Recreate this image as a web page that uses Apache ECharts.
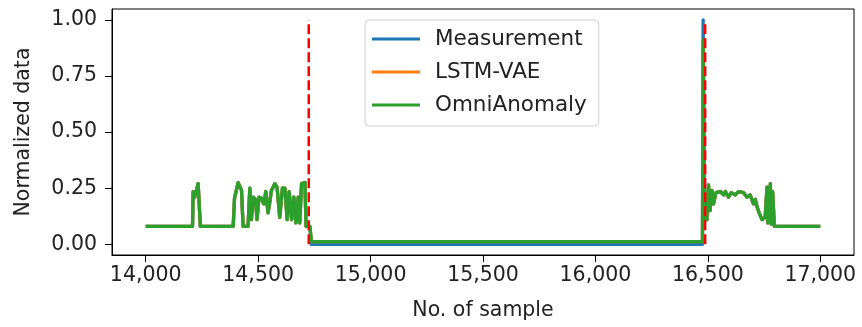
<!DOCTYPE html>
<html>
<head>
<meta charset="utf-8">
<script src="https://cdn.jsdelivr.net/npm/echarts@6/dist/echarts.min.js"></script>
<style>
html,body{margin:0;padding:0;background:#fff;}
#chart{width:862px;height:327px;}
</style>
</head>
<body>
<div id="chart"></div>
<script>
// Breakpoints of the traces (sample number)
var sampleX = [
  14000, 14208, 14211, 14218, 14233, 14238, 14243,
  14389, 14395, 14411, 14426, 14433, 14455, 14463, 14470, 14478, 14488, 14495,
  14504, 14515, 14525, 14534, 14544, 14552, 14559, 14574, 14584, 14596, 14608,
  14619, 14629, 14638, 14649, 14659, 14668, 14678, 14685, 14693, 14708, 14713,
  14730, 14737,
  16476, 16479, 16486, 16496, 16503, 16510, 16518, 16525, 16536, 16555, 16570,
  16578, 16592, 16604, 16622, 16636, 16659, 16674, 16688, 16703, 16711, 16718,
  16728, 16741, 16748, 16755, 16763, 16767, 16778, 16782, 16788, 16796, 16807,
  17000
];
var measurement = [
  0.08, 0.08, 0.235, 0.21, 0.27, 0.27, 0.08,
  0.08, 0.206, 0.275, 0.24, 0.08, 0.08, 0.25, 0.11, 0.21, 0.20, 0.11,
  0.21, 0.205, 0.18, 0.235, 0.14, 0.19, 0.24, 0.27, 0.255, 0.12, 0.25,
  0.25, 0.11, 0.235, 0.11, 0.21, 0.095, 0.21, 0.095, 0.27, 0.275, 0.08,
  0.08, 0.0,
  0.0, 1.0, 0.11, 0.11, 0.265, 0.15, 0.24, 0.18, 0.23, 0.235, 0.22,
  0.235, 0.21, 0.23, 0.22, 0.235, 0.23, 0.21, 0.22, 0.18, 0.20, 0.17,
  0.14, 0.11, 0.105, 0.12, 0.255, 0.095, 0.27, 0.09, 0.235, 0.08, 0.08,
  0.08
];
var lstmVae = [
  0.08, 0.08, 0.235, 0.21, 0.27, 0.27, 0.08,
  0.08, 0.206, 0.275, 0.24, 0.08, 0.08, 0.25, 0.11, 0.21, 0.20, 0.11,
  0.21, 0.205, 0.18, 0.235, 0.14, 0.19, 0.24, 0.27, 0.255, 0.12, 0.25,
  0.25, 0.11, 0.235, 0.11, 0.21, 0.095, 0.21, 0.095, 0.27, 0.275, 0.08,
  0.08, 0.012,
  0.012, 0.90, 0.11, 0.11, 0.265, 0.15, 0.24, 0.18, 0.23, 0.235, 0.22,
  0.235, 0.21, 0.23, 0.22, 0.235, 0.23, 0.21, 0.22, 0.18, 0.20, 0.17,
  0.14, 0.11, 0.105, 0.12, 0.255, 0.095, 0.27, 0.09, 0.235, 0.08, 0.08,
  0.08
];
var omniAnomaly = [
  0.08, 0.08, 0.235, 0.21, 0.27, 0.27, 0.08,
  0.08, 0.206, 0.275, 0.24, 0.08, 0.08, 0.25, 0.11, 0.21, 0.20, 0.11,
  0.21, 0.205, 0.18, 0.235, 0.14, 0.19, 0.24, 0.27, 0.255, 0.12, 0.25,
  0.25, 0.11, 0.235, 0.11, 0.21, 0.095, 0.21, 0.095, 0.27, 0.275, 0.08,
  0.08, 0.012,
  0.012, 0.91, 0.11, 0.11, 0.265, 0.15, 0.24, 0.18, 0.23, 0.235, 0.22,
  0.235, 0.21, 0.23, 0.22, 0.235, 0.23, 0.21, 0.22, 0.18, 0.20, 0.17,
  0.14, 0.11, 0.105, 0.12, 0.255, 0.095, 0.27, 0.09, 0.235, 0.08, 0.08,
  0.08
];
// Anomaly boundaries (red dashed lines)
var anomalyX = [14725, 16488];
var anomalyRange = [0, 1.0];

var seriesNames = ['Measurement', 'LSTM-VAE', 'OmniAnomaly'];
var xTicks = [14000, 14500, 15000, 15500, 16000, 16500, 17000];
var yTicks = [0, 0.25, 0.5, 0.75, 1.0];

function pairs(xs, ys) {
  return xs.map(function (x, i) { return [x, ys[i]]; });
}

var FONT = 'DejaVu Sans';
var colors = ['#1f77b4', '#ff7f0e', '#2ca02c'];
var values = [measurement, lstmVae, omniAnomaly];

var series = seriesNames.map(function (name, i) {
  return {
    name: name,
    type: 'line',
    data: pairs(sampleX, values[i]),
    showSymbol: false,
    symbol: 'none',
    z: 2 + i,
    lineStyle: { color: colors[i], width: 3.3, join: 'round' },
    itemStyle: { color: colors[i] }
  };
});
anomalyX.forEach(function (ax, k) {
  series.push({
    name: 'anomaly' + k,
    type: 'line',
    data: anomalyRange.map(function (v) { return [ax, v]; }),
    showSymbol: false,
    symbol: 'none',
    z: 10,
    lineStyle: { color: '#ff0000', width: 2.5, type: [10, 4] }
  });
});

var chart = echarts.init(document.getElementById('chart'), null, { renderer: 'canvas' });
chart.setOption({
  animation: false,
  backgroundColor: '#ffffff',
  grid: {
    left: 112, right: 8, top: 9, bottom: 72,
    show: true, borderColor: '#000', borderWidth: 1, backgroundColor: 'transparent'
  },
  legend: {
    data: seriesNames,
    orient: 'vertical',
    left: 365, top: 20,
    padding: [8, 12, 10, 7],
    itemGap: 11,
    itemWidth: 48, itemHeight: 3,
    icon: 'rect',
    borderColor: '#d0d0d0', borderWidth: 1, borderRadius: 4,
    backgroundColor: 'rgba(255,255,255,0.8)',
    textStyle: { fontFamily: FONT, fontSize: 21.5, color: '#222', lineHeight: 22, padding: [0, 0, 0, 10] }
  },
  xAxis: {
    type: 'value',
    min: 13850, max: 17150,
    name: 'No. of sample',
    nameLocation: 'middle',
    nameGap: 45,
    nameTextStyle: { fontFamily: FONT, fontSize: 20.5, color: '#222' },
    splitLine: { show: false },
    axisLine: { show: true, onZero: false, lineStyle: { color: '#000', width: 1 } },
    axisTick: { show: true, customValues: xTicks, length: 7, lineStyle: { color: '#000' } },
    axisLabel: {
      customValues: xTicks, margin: 10,
      fontFamily: FONT, fontSize: 20.5, color: '#222',
      formatter: function (v) { return v.toLocaleString('en-US'); }
    }
  },
  yAxis: {
    type: 'value',
    min: -0.048, max: 1.049,
    name: 'Normalized data',
    nameLocation: 'middle',
    nameGap: 78,
    nameTextStyle: { fontFamily: FONT, fontSize: 20.5, color: '#222' },
    splitLine: { show: false },
    axisLine: { show: true, onZero: false, lineStyle: { color: '#000', width: 1 } },
    axisTick: { show: true, customValues: yTicks, length: 7, lineStyle: { color: '#000' } },
    axisLabel: {
      customValues: yTicks, margin: 15,
      fontFamily: FONT, fontSize: 20.5, color: '#222',
      formatter: function (v) { return v.toFixed(2); }
    }
  },
  series: series
});
</script>
</body>
</html>
